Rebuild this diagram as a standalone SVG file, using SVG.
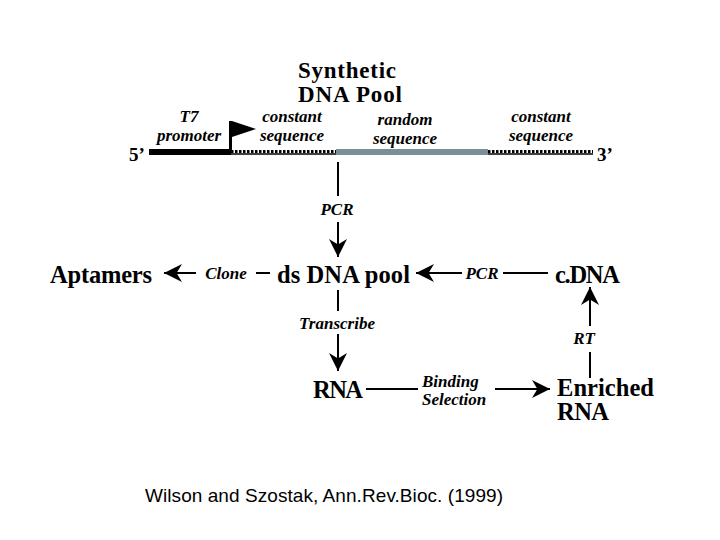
<svg xmlns="http://www.w3.org/2000/svg" width="720" height="540" viewBox="0 0 720 540">
<style>
.b{font-family:"Liberation Serif",serif;font-weight:bold;fill:#000}
.i{font-family:"Liberation Serif",serif;font-weight:bold;font-style:italic;fill:#000;font-size:17px}
.l{stroke:#000;stroke-width:2;fill:none}
</style>
<defs>
<marker id="A" viewBox="0 0 10 10" refX="10" refY="5" markerWidth="18" markerHeight="18" markerUnits="userSpaceOnUse" orient="auto"><path d="M0,0L10,5L0,10L3,5z" fill="#000"/></marker>
</defs>
<rect width="720" height="540" fill="#fff"/>
<g id="pool">
<text class="b" font-size="23" x="298" y="78" textLength="98">Synthetic</text>
<text class="b" font-size="23" x="298" y="102" textLength="104">DNA Pool</text>
<text class="b" font-size="19" x="129" y="161">5’</text>
<text class="b" font-size="19" x="597" y="161">3’</text>
<rect x="149" y="149" width="82" height="6" fill="#000"/>
<rect x="229" y="121" width="3" height="32" fill="#000"/>
<path d="M232,121L256,129L232,137z" fill="#000"/>
<line x1="231" y1="154" x2="336" y2="154" stroke="#000" stroke-width="1.5"/>
<line x1="231" y1="151.5" x2="336" y2="151.5" stroke="#000" stroke-width="3" stroke-dasharray="2.5,1.5"/>
<rect x="336" y="149" width="152" height="6" fill="#7a8f96"/>
<line x1="488" y1="154" x2="593" y2="154" stroke="#000" stroke-width="1.5"/>
<line x1="488" y1="151.5" x2="593" y2="151.5" stroke="#000" stroke-width="3" stroke-dasharray="2.5,1.5"/>
<text class="i" x="189" y="122" text-anchor="middle">T7</text>
<text class="i" x="189" y="141" text-anchor="middle">promoter</text>
<text class="i" x="292" y="122" text-anchor="middle">constant</text>
<text class="i" x="292" y="141" text-anchor="middle">sequence</text>
<text class="i" x="405" y="125" text-anchor="middle">random</text>
<text class="i" x="405" y="144" text-anchor="middle">sequence</text>
<text class="i" x="541" y="122" text-anchor="middle">constant</text>
<text class="i" x="541" y="141" text-anchor="middle">sequence</text>
</g>
<g id="dsdna"><text class="b" font-size="24.5" x="277" y="283" textLength="133">ds DNA pool</text></g>
<g id="aptamers"><text class="b" font-size="24.5" x="50" y="283" textLength="102">Aptamers</text></g>
<g id="cdna"><text class="b" font-size="24.5" x="555" y="283" textLength="65">c.DNA</text></g>
<g id="rna"><text class="b" font-size="24.5" x="313" y="398" textLength="50">RNA</text></g>
<g id="enriched"><text class="b" font-size="24.5" x="557" y="396" textLength="97">Enriched</text><text class="b" font-size="24.5" x="557" y="420" textLength="52">RNA</text></g>
<g id="connectors">
<line class="l" x1="338" y1="162" x2="338" y2="196"/>
<text class="i" x="337" y="215" text-anchor="middle">PCR</text>
<line class="l" x1="338" y1="222" x2="338" y2="257" marker-end="url(#A)"/>
<line class="l" x1="270" y1="273" x2="256" y2="273"/>
<text class="i" x="226" y="279" text-anchor="middle">Clone</text>
<line class="l" x1="196" y1="273" x2="164" y2="273" marker-end="url(#A)"/>
<line class="l" x1="548" y1="273" x2="503" y2="273"/>
<text class="i" x="482" y="279" text-anchor="middle">PCR</text>
<line class="l" x1="462" y1="273" x2="416" y2="273" marker-end="url(#A)"/>
<line class="l" x1="338" y1="290" x2="338" y2="311"/>
<text class="i" x="337" y="329" text-anchor="middle">Transcribe</text>
<line class="l" x1="338" y1="334" x2="338" y2="371" marker-end="url(#A)"/>
<line class="l" x1="366" y1="389" x2="418" y2="389"/>
<text class="i" x="422" y="387">Binding</text>
<text class="i" x="422" y="405">Selection</text>
<line class="l" x1="495" y1="389" x2="550" y2="389" marker-end="url(#A)"/>
<line class="l" x1="590" y1="378" x2="590" y2="352"/>
<text class="i" x="584" y="344" text-anchor="middle">RT</text>
<line class="l" x1="590" y1="326" x2="590" y2="287" marker-end="url(#A)"/>
</g>
<text x="145" y="502" font-family="Liberation Sans,Arial,sans-serif" font-size="19" textLength="358" fill="#000">Wilson and Szostak, Ann.Rev.Bioc. (1999)</text>
</svg>
